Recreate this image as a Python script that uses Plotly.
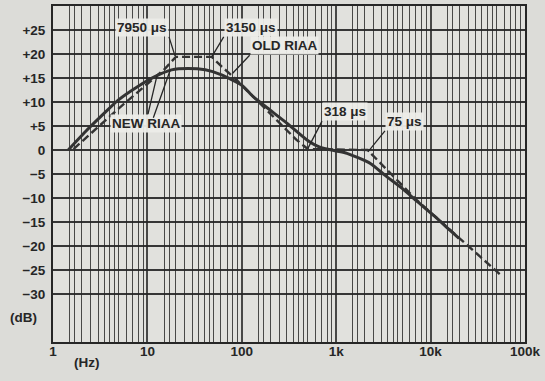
import math
import plotly.graph_objects as go

# ---- data ----
new_riaa_hz = [1.45, 2.2, 3.3, 4.9, 8.0, 12, 18, 27, 41, 60, 100, 132, 200, 300, 490, 670, 1000, 1300, 2300, 3300, 5000, 7100, 11000, 16000, 20000]
new_riaa_db = [0, 3.8, 7.2, 10.4, 13.3, 15.3, 16.7, 17.0, 16.7, 15.7, 13.5, 11.1, 8.3, 5.6, 2.1, 0.6, -0.2, -0.7, -2.8, -5.3, -8.0, -10.6, -13.8, -16.7, -18.4]

old_riaa_hz = [1.65, 5.2, 15.3, 20, 48, 61, 85, 235, 380, 500, 2150, 7100, 20700, 58000]
old_riaa_db = [0.2, 9.0, 16.9, 19.4, 19.4, 17.4, 14.9, 6.25, 2.1, 0.2, 0, -10.4, -18.6, -26.4]

x_tick_vals = [1, 10, 100, 1000, 10000, 100000]
x_tick_text = ["1", "10", "100", "1k", "10k", "100k"]
y_tick_vals = [-30, -25, -20, -15, -10, -5, 0, 5, 10, 15, 20, 25]
y_tick_text = ["\u221230", "\u221225", "\u221220", "\u221215", "\u221210", "\u22125", "0",
               "+5", "+10", "+15", "+20", "+25"]
grid_multipliers = [1.5, 1.7, 2, 2.5, 3, 3.5, 4, 4.5, 5, 6, 7, 8, 9]

# labels: (text, head freq, head dB, tail dx, tail dy, xanchor, yanchor)
labels = [
    ("7950 \u03bcs", 19.6, 19.6, -6, -19, "right", "bottom"),
    ("3150 \u03bcs", 48, 19.4, 12, -20, "left", "bottom"),
    ("OLD RIAA", 80, 16.0, 17, -18, "left", "bottom"),
    ("NEW RIAA", 12.6, 15.4, -11, 47, "center", "middle"),
    ("", 17.5, 16.7, -17, 48, "center", "top"),
    ("318 \u03bcs", 503, 0.4, 14, -27, "left", "bottom"),
    ("75 \u03bcs", 2170, -0.4, 17, -21, "left", "bottom"),
]

minor_vals = [m * 10 ** d for d in range(5) for m in grid_multipliers]

BG = "#dcdcd8"
INK = "#262626"
GRID = "rgba(45,45,45,0.85)"
FONT = dict(family="Liberation Sans, Arial, sans-serif", size=13.5, color=INK, weight="bold")

fig = go.Figure()
fig.add_trace(go.Scatter(x=old_riaa_hz, y=old_riaa_db, mode="lines",
                         line=dict(color="#333333", width=2.4, dash="8px,4px"),
                         name="OLD RIAA", showlegend=False))
fig.add_trace(go.Scatter(x=new_riaa_hz, y=new_riaa_db, mode="lines",
                         line=dict(color="#333333", width=3, shape="spline", smoothing=0.6),
                         name="NEW RIAA", showlegend=False))

annotations = []
for text, f, db, dx, dy, xa, ya in labels:
    annotations.append(dict(
        x=math.log10(f), y=db, xref="x", yref="y", text=text,
        showarrow=True, arrowhead=0, arrowwidth=1.3, arrowcolor=INK,
        ax=dx, ay=dy, axref="pixel", ayref="pixel",
        xanchor=xa, yanchor=ya, font=FONT,
        bgcolor="rgba(236,236,232,0.95)" if text else None, borderpad=1,
    ))
annotations.append(dict(x=-0.0625, y=0.072, xref="paper", yref="paper", text="(dB)",
                        showarrow=False, font=FONT, xanchor="center", yanchor="middle"))
annotations.append(dict(x=0.071, y=-0.06, xref="paper", yref="paper", text="(Hz)",
                        showarrow=False, font=FONT, xanchor="center", yanchor="middle"))

fig.update_layout(
    width=545, height=381,
    margin=dict(l=53, r=20, t=6, b=39),
    paper_bgcolor=BG, plot_bgcolor="#e1e1dd",
    font=FONT,
    annotations=annotations,
    xaxis=dict(type="log", range=[0, 5], tickmode="array", tickvals=x_tick_vals,
               ticktext=x_tick_text, ticks="", showgrid=True, gridcolor=GRID, gridwidth=1.6,
               minor=dict(tickmode="array", tickvals=minor_vals, showgrid=True,
                          gridcolor=GRID, gridwidth=1.3, ticks=""),
               showline=True, linecolor=INK, linewidth=2, mirror=True, zeroline=False,
               tickfont=FONT, ticklabelstandoff=-4, automargin=False),
    yaxis=dict(range=[-40, 30], tickmode="array", tickvals=y_tick_vals, ticktext=y_tick_text,
               ticks="", showgrid=True, gridcolor="rgba(35,35,35,0.9)", gridwidth=1.8,
               showline=True, linecolor=INK, linewidth=2, mirror=True, zeroline=False,
               tickfont=FONT, ticklabelstandoff=3, automargin=False),
)

fig.write_html("out.html",
               config={"displayModeBar": False},
               post_script="document.body.style.margin='0';"
                           "document.body.style.background='" + BG + "';")
